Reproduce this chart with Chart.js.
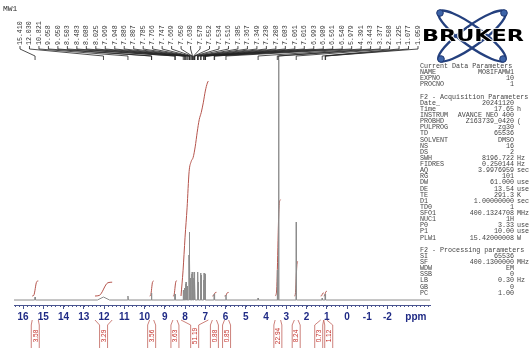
<!DOCTYPE html>
<html>
<head>
<meta charset="utf-8">
<script src="https://cdn.jsdelivr.net/npm/chart.js@4.4.1/dist/chart.umd.min.js"></script>
<style>
html,body{margin:0;padding:0;background:#fff;width:529px;height:348px;overflow:hidden;}
#wrap{position:relative;width:529px;height:348px;}
#c{position:absolute;left:0;top:0;}
#title{position:absolute;left:3px;top:4px;font-family:"Liberation Mono",monospace;font-size:8px;line-height:9px;color:#333;}
#params{position:absolute;left:420px;top:63px;width:109px;font-family:"Liberation Mono",monospace;font-size:6.7px;color:#444;white-space:pre;}
.row{position:relative;height:6.14px;line-height:6.14px;}
.k{position:absolute;left:0;top:0;}
.v{position:absolute;right:15px;top:0;}
.u{position:absolute;left:97px;top:0;}
#logo{position:absolute;left:418px;top:0;}
</style>
</head>
<body>
<div id="wrap">
  <canvas id="c" width="529" height="348"></canvas>
  <div id="title">MW1</div>
  <svg id="logo" width="111" height="64" viewBox="418 0 111 64">
    <g fill="none" stroke="#24407e" stroke-width="2.4">
      <ellipse cx="472" cy="36" rx="41" ry="10" transform="rotate(36 472 36)"/>
      <ellipse cx="472" cy="36" rx="41" ry="10" transform="rotate(-36 472 36)"/>
    </g>
    <g fill="#3d64a8" stroke="#1f3670" stroke-width="1">
      <circle cx="440" cy="13" r="3.3"/>
      <circle cx="504" cy="13" r="3.3"/>
      <circle cx="441" cy="59" r="3.3"/>
      <circle cx="503" cy="59" r="3.3"/>
    </g>
    <text x="473" y="41" font-family="DejaVu Sans" font-weight="bold" font-size="16" textLength="102" lengthAdjust="spacingAndGlyphs" text-anchor="middle" fill="#000" stroke="#fff" stroke-width="1.5" paint-order="stroke">BRUKER</text>
  </svg>
  <div id="params"></div>
</div>
<script>
// ---- spectrum peaks (ppm, intensity) ----
const peakPpm = [15.410, 12.030, 10.821, 9.658, 9.650, 8.503, 8.483, 8.088, 8.025, 7.969,
  7.948, 7.886, 7.807, 7.785, 7.766, 7.747, 7.669, 7.650, 7.630, 7.578,
  7.552, 7.534, 7.516, 7.385, 7.367, 7.349, 7.230, 7.208, 7.083, 7.061,
  7.016, 6.993, 6.989, 6.561, 6.540, 5.979, 4.391, 3.443, 3.377, 2.508,
  1.225, 1.077, 1.059];
const peakHeight = [3, 3, 4, 7, 7, 6, 6, 10, 12, 16,
  18, 14, 45, 68, 40, 22, 26, 28, 20, 22,
  28, 26, 18, 26, 28, 18, 27, 25, 20, 27,
  18, 26, 22, 6, 6, 5, 2, 30, 300, 78,
  2, 6, 6];
const peakHalfWidth = [0.02, 0.30, 0.02, 0.012, 0.012, 0.012, 0.012, 0.012, 0.012, 0.012,
  0.012, 0.012, 0.012, 0.012, 0.012, 0.012, 0.012, 0.012, 0.012, 0.012,
  0.012, 0.012, 0.012, 0.012, 0.012, 0.012, 0.012, 0.012, 0.012, 0.012,
  0.012, 0.012, 0.012, 0.012, 0.012, 0.012, 0.012, 0.012, 0.012, 0.012,
  0.012, 0.012, 0.012];

// ---- integrals ----
const integralFrom  = [15.55, 12.45, 9.75, 8.60, 8.20, 6.65, 6.05, 3.55, 2.60, 1.30, 1.15];
const integralTo    = [15.25, 11.60, 9.55, 8.40, 6.85, 6.45, 5.85, 3.28, 2.42, 1.15, 1.00];
const integralValue = [3.58, 3.29, 3.56, 3.63, 51.19, 0.88, 0.85, 22.94, 8.24, 0.73, 1.12];
// running sum of the large aromatic integral
const aromaticIntegralPpm = [8.20, 8.10, 8.00, 7.90, 7.80, 7.70, 7.60, 7.50, 7.40, 7.30, 7.20, 7.10, 7.00, 6.90, 6.85];
const aromaticIntegralSum = [0, 6, 14, 21, 29.6, 32, 33, 35.5, 39, 42, 43.7, 46, 48.8, 50.7, 51.19];

// ---- axis ticks ----
const axisTicks = [16, 15, 14, 13, 12, 11, 10, 9, 8, 7, 6, 5, 4, 3, 2, 1, 0, -1, -2];
const axisUnitPos = -3.4;

// ---- acquisition / processing parameters (text panel) ----
const paramRows = [
  ["Current Data Parameters"], ["NAME", "MO8IFAMW1"], ["EXPNO", "10"], ["PROCNO", "1"], [""],
  ["F2 - Acquisition Parameters"], ["Date_", "20241120"], ["Time", "17.65", "h"],
  ["INSTRUM", "AVANCE NEO 400"], ["PROBHD", "Z163739_0420", "("], ["PULPROG", "zg30"],
  ["TD", "65536"], ["SOLVENT", "DMSO"], ["NS", "16"], ["DS", "2"], ["SWH", "8196.722", "Hz"],
  ["FIDRES", "0.250144", "Hz"], ["AQ", "3.9976959", "sec"], ["RG", "101"], ["DW", "61.000", "usec"],
  ["DE", "13.54", "usec"], ["TE", "291.3", "K"], ["D1", "1.00000000", "sec"], ["TD0", "1"],
  ["SFO1", "400.1324708", "MHz"], ["NUC1", "1H"], ["P0", "3.33", "usec"], ["P1", "10.00", "usec"],
  ["PLW1", "15.42000008", "W"], [""], ["F2 - Processing parameters"], ["SI", "65536"],
  ["SF", "400.1300000", "MHz"], ["WDW", "EM"], ["SSB", "0"], ["LB", "0.30", "Hz"], ["GB", "0"], ["PC", "1.00"]
];

const params = document.getElementById('params');
paramRows.forEach(r => {
  const row = document.createElement('div'); row.className = 'row';
  const k = document.createElement('span'); k.className = 'k'; k.textContent = r[0] || '\u00a0'; row.appendChild(k);
  if (r[1]) { const v = document.createElement('span'); v.className = 'v'; v.textContent = r[1]; row.appendChild(v); }
  if (r[2]) { const u = document.createElement('span'); u.className = 'u'; u.textContent = r[2]; row.appendChild(u); }
  params.appendChild(row);
});

// ---- build datasets ----
const spectrum = [{x: 16.45, y: 0}];
peakPpm.forEach((p, i) => {
  spectrum.push({x: p + peakHalfWidth[i], y: 0}, {x: p, y: peakHeight[i]}, {x: p - peakHalfWidth[i], y: 0});
});
spectrum.push({x: -4.1, y: 0});

const INT_SCALE = 4.2, INT_OFF = 4;
const integralSets = integralFrom.map((f, i) => {
  const t = integralTo[i], v = integralValue[i];
  let pts;
  if (v === 51.19) {
    pts = aromaticIntegralPpm.map((p, j) => ({x: p, y: INT_OFF + aromaticIntegralSum[j] * INT_SCALE}));
  } else {
    const c = (f + t) / 2, d = (f - t) / 4;
    pts = [{x: f, y: INT_OFF}, {x: c + d, y: INT_OFF + v * INT_SCALE * 0.04},
           {x: c - d, y: INT_OFF + v * INT_SCALE * 0.96}, {x: t, y: INT_OFF + v * INT_SCALE}];
  }
  return {data: pts, borderColor: '#b5544c', borderWidth: 1, showLine: true, pointRadius: 0,
          cubicInterpolationMode: 'monotone'};
});

const AX = '#4a5590';
const decor = {
  id: 'decor',
  afterDraw(chart) {
    const {ctx, chartArea} = chart; const x = chart.scales.x;
    const base = chartArea.bottom;
    ctx.save();
    // minor ticks
    ctx.strokeStyle = AX; ctx.lineWidth = 1;
    ctx.beginPath();
    for (let k = -40; k <= 164; k += 2) {
      const px = Math.round(x.getPixelForValue(k / 10)) + 0.5;
      ctx.moveTo(px, base); ctx.lineTo(px, base + 2);
    }
    ctx.stroke();
    // peak labels + fan
    const n = peakPpm.length, x0 = 20, x1 = 418;
    ctx.font = '6.6px "Liberation Mono"'; ctx.fillStyle = '#333'; ctx.textBaseline = 'middle'; ctx.textAlign = 'left';
    ctx.strokeStyle = '#222'; ctx.lineWidth = 0.8;
    for (let i = 0; i < n; i++) {
      const lx = x0 + (x1 - x0) * i / (n - 1);
      const px = x.getPixelForValue(peakPpm[i]);
      ctx.beginPath(); ctx.moveTo(lx, 46); ctx.lineTo(lx, 49); ctx.lineTo(px, 56); ctx.lineTo(px, 60); ctx.stroke();
      ctx.save(); ctx.translate(lx, 45); ctx.rotate(-Math.PI / 2);
      ctx.fillText(peakPpm[i].toFixed(3), 0, 0); ctx.restore();
    }
    // integral brackets + labels
    const lxs = integralFrom.map((f, i) => x.getPixelForValue((f + integralTo[i]) / 2));
    for (let i = 1; i < lxs.length; i++) {
      const diff = lxs[i] - lxs[i - 1];
      if (diff < 10) { const d = (10 - diff) / 2; lxs[i - 1] -= d; lxs[i] += d; }
    }
    ctx.strokeStyle = '#c0625a'; ctx.lineWidth = 0.8;
    ctx.fillStyle = '#c42f28'; ctx.font = '6.5px "Liberation Sans"'; ctx.textAlign = 'center';
    integralFrom.forEach((f, i) => {
      const a = x.getPixelForValue(f), b = x.getPixelForValue(integralTo[i]), lx = lxs[i];
      ctx.beginPath();
      ctx.moveTo(a, 320); ctx.lineTo(lx - 4, 325); ctx.lineTo(lx - 4, 348);
      ctx.moveTo(b, 320); ctx.lineTo(lx + 4, 325); ctx.lineTo(lx + 4, 348);
      ctx.stroke();
      ctx.save(); ctx.translate(lx + 0.5, 336); ctx.rotate(-Math.PI / 2);
      ctx.fillText(integralValue[i].toFixed(2), 0, 0); ctx.restore();
    });
    ctx.restore();
  }
};

new Chart(document.getElementById('c'), {
  type: 'scatter',
  data: {datasets: [
    {data: spectrum, borderColor: '#8c8c8c', borderWidth: 1, showLine: true, pointRadius: 0, tension: 0},
    ...integralSets
  ]},
  options: {
    responsive: false, animation: false, events: [],
    layout: {padding: {left: 14, right: 99, top: 60, bottom: 0}},
    plugins: {legend: {display: false}, tooltip: {enabled: false}},
    elements: {point: {radius: 0}},
    scales: {
      x: {
        type: 'linear', reverse: true, min: -4.1, max: 16.45,
        afterFit(s) { s.height = 43; },
        afterBuildTicks(s) { s.ticks = axisTicks.map(v => ({value: v})).concat([{value: axisUnitPos}]); },
        ticks: {autoSkip: false, maxRotation: 0, padding: 2, color: '#1f2a85',
                font: {family: 'Liberation Sans', weight: 'bold', size: 10},
                callback: v => v === axisUnitPos ? 'ppm' : String(v)},
        grid: {drawOnChartArea: false, drawTicks: true, tickLength: 4,
               color: c => (c.tick && c.tick.value === axisUnitPos) ? 'rgba(0,0,0,0)' : AX},
        border: {display: true, color: AX, width: 1}
      },
      y: {display: false, min: -5, max: 240}
    }
  },
  plugins: [decor]
});
</script>
</body>
</html>
